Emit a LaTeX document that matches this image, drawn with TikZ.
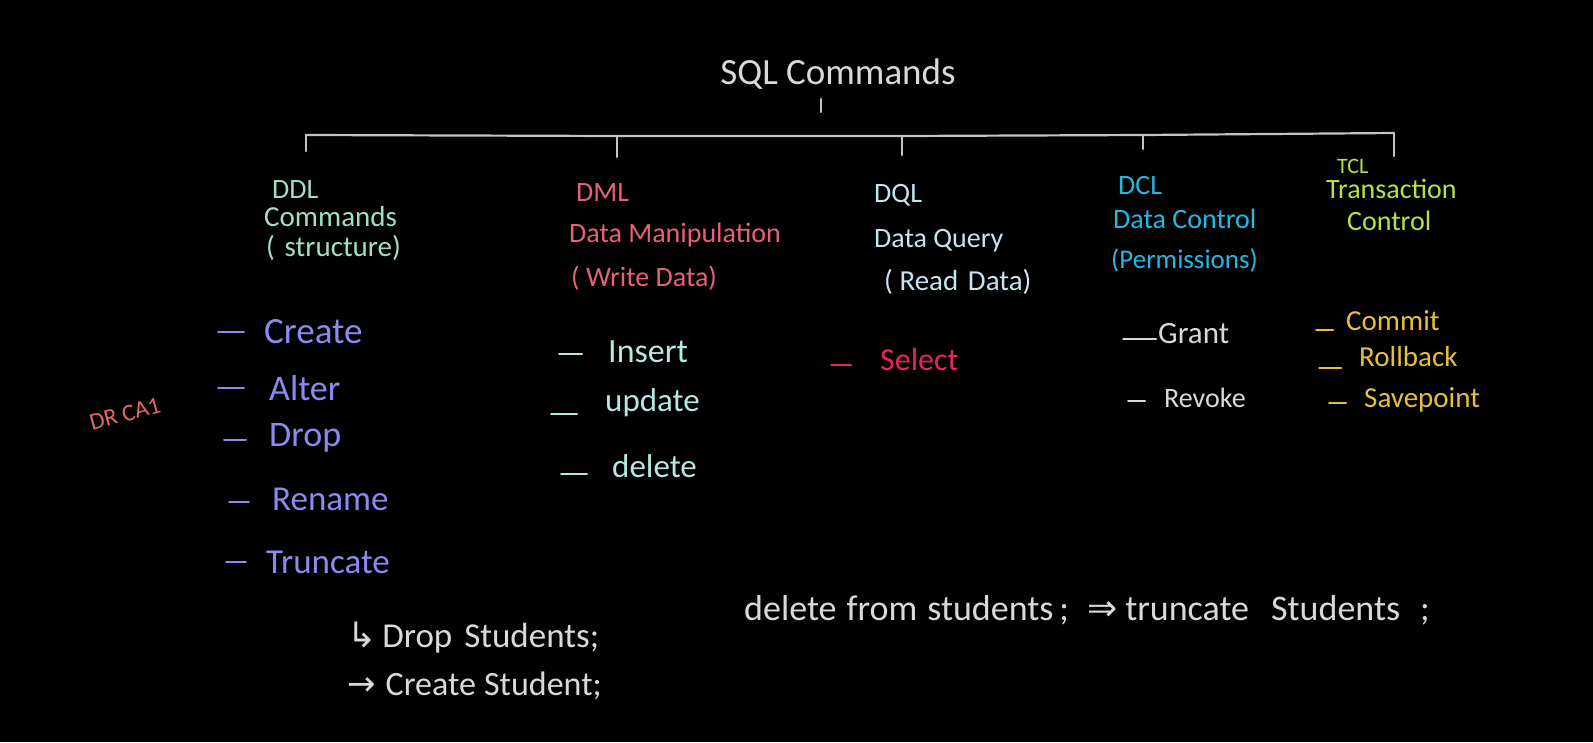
\documentclass[tikz,border=0pt]{standalone}
\usepackage{fontspec}
\setmainfont{Carlito}
\newfontfamily\symfont{DejaVu Sans}
\definecolor{chalk}{HTML}{D9D9D9}
\definecolor{ddlhead}{HTML}{A2E0C4}
\definecolor{ddlitem}{HTML}{8C8AF0}
\definecolor{dmlhead}{HTML}{E8607A}
\definecolor{dmlitem}{HTML}{B8E6E0}
\definecolor{dqlhead}{HTML}{C8E4F0}
\definecolor{selcol}{HTML}{E8245C}
\definecolor{dclhead}{HTML}{22B8E6}
\definecolor{tclhead}{HTML}{B8E04A}
\definecolor{tclitem}{HTML}{E8C038}
\definecolor{drca}{HTML}{E06868}
\tikzset{
  hw/.style={font=\fontsize{#1}{#1}\selectfont, inner sep=0pt, anchor=west},
  tree/.style={draw=chalk!90!black, line width=2.2pt, line cap=round},
  dashmark/.style={line width=2pt, line cap=round}
}
\begin{document}
\begin{tikzpicture}[x=1pt,y=-1pt]
\fill[black] (0,0) rectangle (1593,742);
\useasboundingbox (0,0) rectangle (1593,742);

% title
\node[hw=37, anchor=center, text=chalk] (sql) at (838,74) {SQL Commands};
\coordinate (s1) at (821,99);
\coordinate (s2) at (821,112);
\draw[tree] (s1) -- (s2);

% bar
\coordinate (bl) at (306,135);
\coordinate (b2) at (617,136);
\coordinate (b3) at (902,136);
\coordinate (b4) at (1143,135);
\coordinate (br) at (1394,133);
\draw[tree] (bl) -- (b2) -- (b3) -- (b4) -- (br);
\coordinate (d1) at (306,151);
\coordinate (d2) at (617,157);
\coordinate (d3) at (902,155);
\coordinate (d4) at (1143,149);
\coordinate (d5) at (1394,156);
\draw[tree] (bl) -- (d1);
\draw[tree] (b2) -- (d2);
\draw[tree] (b3) -- (d3);
\draw[tree] (b4) -- (d4);
\draw[tree] (br) -- (d5);

% DDL
\node[hw=28, text=ddlhead] (ddl) at (272,190) {DDL};
\node[hw=29, text=ddlhead] (ddl2) at (264,217) {Commands};
\node[hw=29, text=ddlhead] (ddl3) at (266,248) {(\,\,structure)};
% DML
\node[hw=28, text=dmlhead] (dml) at (576,193) {DML};
\node[hw=28, text=dmlhead] (dml2) at (569,235) {Data Manipulation};
\node[hw=28, text=dmlhead] (dml3) at (571,278) {( Write Data)};
% DQL
\node[hw=28, text=dqlhead] (dql) at (874,195) {DQL};
\node[hw=28, text=dqlhead] (dql2) at (874,241) {Data Query};
\node[hw=29, text=dqlhead] (dql3) at (884,282) {( Read\,\,Data)};
% DCL
\node[hw=28, text=dclhead] (dcl) at (1118,186) {DCL};
\node[hw=28, text=dclhead] (dcl2) at (1113,219) {Data Control};
\node[hw=27, text=dclhead] (dcl3) at (1111,260) {(Permissions)};
% TCL
\node[hw=22, text=tclhead] (tcl) at (1337,166) {TCL};
\node[hw=28, text=tclhead] (tcl2) at (1326,189) {Transaction};
\node[hw=28, text=tclhead] (tcl3) at (1347,221) {Control};

% DDL items
\node[hw=37, text=ddlitem] (create) at (264,332) {Create};
\node[hw=36, text=ddlitem] (alter) at (269,388) {Alter};
\node[hw=36, text=ddlitem] (drop) at (269,438) {Drop};
\node[hw=35, text=ddlitem] (rename) at (272,499) {Rename};
\node[hw=35, text=ddlitem] (trunc) at (266,562) {Truncate};
\draw[dashmark, ddlitem] ([xshift=-46pt]create.west) -- ++(26,0);
\draw[dashmark, ddlitem] ([xshift=-51pt]alter.west) -- ++(26,0);
\draw[dashmark, ddlitem] ([xshift=-45pt,yshift=-2pt]drop.west) -- ++(22,0);
\draw[dashmark, ddlitem] ([xshift=-43pt,yshift=-3pt]rename.west) -- ++(20,0);
\draw[dashmark, ddlitem] ([xshift=-40pt]trunc.west) -- ++(20,0);

\node[hw=24, text=drca, rotate=15, anchor=center] (drca1) at (125,414) {DR CA1};

% DML items
\node[hw=34, text=dmlitem] (insert) at (608,352) {Insert};
\node[hw=33, text=dmlitem] (update) at (605,403) {update};
\node[hw=33, text=dmlitem] (delete) at (612,466) {delete};
\draw[dashmark, dmlitem] ([xshift=-49pt,yshift=-2pt]insert.west) -- ++(23,0);
\draw[dashmark, dmlitem] ([xshift=-54pt,yshift=-11pt]update.west) -- ++(26,0);
\draw[dashmark, dmlitem] ([xshift=-51pt,yshift=-8pt]delete.west) -- ++(26,0);

% DQL items
\node[hw=32, text=selcol] (select) at (880,360) {Select};
\draw[dashmark, selcol] ([xshift=-49pt,yshift=-5pt]select.west) -- ++(20,0);

% DCL items
\node[hw=31, text=chalk] (grant) at (1158,334) {Grant};
\node[hw=28, text=chalk] (revoke) at (1164,398) {Revoke};
\draw[dashmark, chalk] ([xshift=-35pt,yshift=-5pt]grant.west) -- ++(33,0);
\draw[dashmark, chalk] ([xshift=-36pt,yshift=-3pt]revoke.west) -- ++(17,0);

% TCL items
\node[hw=29, text=tclitem] (commit) at (1346,321) {Commit};
\node[hw=29, text=tclitem] (rollback) at (1359,357) {Rollback};
\node[hw=29, text=tclitem] (savepoint) at (1364,400) {Savepoint};
\draw[dashmark, tclitem] ([xshift=-30pt,yshift=-9pt]commit.west) -- ++(17,0);
\draw[dashmark, tclitem] ([xshift=-40pt,yshift=-11pt]rollback.west) -- ++(22,0);
\draw[dashmark, tclitem] ([xshift=-35pt,yshift=-3pt]savepoint.west) -- ++(17,0);

% bottom notes
\node[hw=35, text=chalk] (ex1) at (347,638) {{\symfont ↳}\,Drop\hspace{12pt}Students;};
\node[hw=34, text=chalk] (ex2) at (347,686) {{\symfont →}\hspace{10pt}Create\hspace{8pt}Student;};
\node[hw=36, text=chalk] (ex3) at (744,610) {delete\hspace{10pt}from\hspace{10pt}students\hspace{6pt};\hspace{18pt}{\symfont ⇒}\hspace{8pt}truncate\hspace{22pt}Students\hspace{20pt};};
\end{tikzpicture}
\end{document}
